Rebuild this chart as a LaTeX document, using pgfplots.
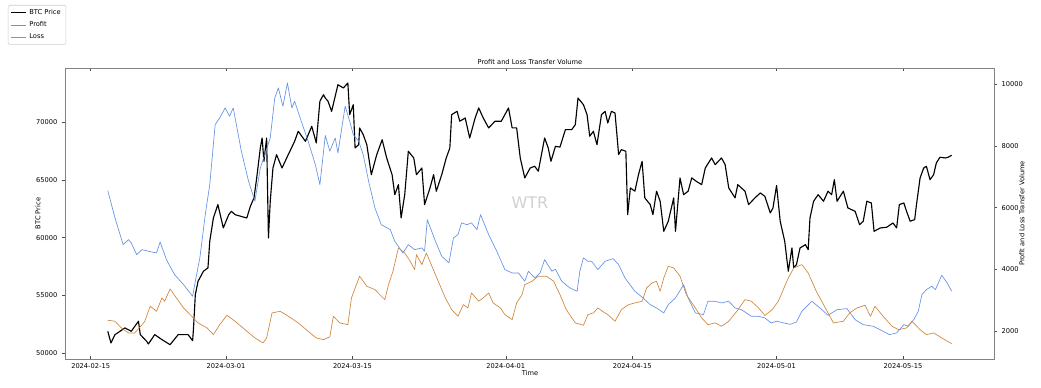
\documentclass[border=0pt]{standalone}
\usepackage{pgfplots}
\usepackage{pgfplotstable}
\pgfplotsset{compat=1.18}
\usetikzlibrary{calc}
\usepackage{fontspec}
\setmainfont{DejaVu Sans}
\definecolor{profitc}{RGB}{100,146,230}
\definecolor{lossc}{RGB}{208,134,60}
\definecolor{framec}{RGB}{130,130,130}

\pgfplotstableread{
d v
1.9 51900
2.25 50890
2.7 51610
3.8 52190
4.5 51900
5.3 52770
5.5 51610
6.2 51040
6.4 50800
7.1 51610
7.9 51180
8.8 50740
9.7 51610
10.8 51610
11.3 51090
11.4 52190
11.6 55070
11.9 56230
12.5 57100
13.0 57390
13.2 59700
13.6 61710
14.1 62870
14.7 60850
15.3 62000
15.6 62290
16.0 62000
17.3 61710
17.7 62730
18.1 63450
18.4 65180
18.8 67780
19.0 68640
19.2 66620
19.5 68640
19.7 59980
19.9 63160
20.2 66040
20.6 67200
21.2 66040
21.9 67200
22.6 68350
23.0 69220
23.8 68350
24.5 69650
25.0 68210
25.4 71820
25.8 72390
26.0 72100
26.3 71820
26.7 70950
27.4 73250
28.0 72970
28.5 73400
28.7 70660
29.1 71520
29.3 67780
29.7 68060
29.8 69510
30.2 68930
30.6 68060
31.1 65460
31.7 67200
32.3 68490
32.8 66910
33.4 65460
33.7 63730
34.1 64600
34.4 61710
34.8 63730
35.2 67490
35.8 66910
36.1 65460
36.7 66040
37.0 62870
37.6 64310
38.0 65460
38.3 64030
38.9 65460
39.4 66910
39.8 67780
40.0 70660
40.6 70950
40.9 70090
41.5 70370
42.0 68640
42.6 70370
43.0 71240
43.5 70370
44.1 69510
44.8 70090
45.5 70090
46.3 71240
46.7 69510
47.2 69510
47.6 66910
48.1 65180
48.7 66040
49.2 66190
49.6 65760
50.3 68640
50.7 67780
51.0 66620
51.5 67920
52.0 67850
52.6 69360
53.3 69360
53.7 69790
54.0 72100
54.6 71520
55.0 70660
55.3 68790
55.7 69220
56.1 68060
56.6 70660
57.0 70950
57.3 69940
57.7 70950
58.1 70800
58.5 67200
58.8 67630
59.3 67490
59.5 62000
59.8 64310
60.3 64030
60.7 65460
61.1 66620
61.4 63450
62.0 62870
62.3 62000
62.7 64030
63.1 63160
63.5 60560
64.0 61430
64.6 63450
64.8 60560
65.3 65180
65.7 63730
66.2 64030
66.6 65180
67.1 64890
67.7 64600
68.1 66040
68.8 66910
69.2 66330
69.9 66910
70.3 66330
70.7 64310
71.4 63450
71.7 64600
72.5 64030
72.9 62870
73.6 63450
74.2 63880
74.7 63590
75.3 62150
75.6 62580
76.0 64530
76.4 61430
76.9 59700
77.3 57100
77.7 59120
77.9 57390
78.2 57670
78.6 59120
79.2 59400
79.5 58970
79.7 61710
80.1 63160
80.6 63730
81.2 63160
81.7 64030
82.1 63730
82.4 65030
82.7 63160
83.4 64030
83.9 62580
84.7 62290
85.2 61130
85.6 61430
86.0 63160
86.5 63010
86.8 60560
87.5 60850
88.2 60910
88.9 61280
89.3 60850
89.6 62870
90.1 63010
90.4 62290
90.8 61430
91.3 61570
91.5 62870
91.9 65180
92.3 66040
92.6 66190
93.0 65030
93.4 65460
93.7 66480
94.1 66970
94.7 66910
95.0 66970
95.4 67140
}\btc

\pgfplotstableread{
d v
1.9 6551
2.7 5666
3.6 4800
4.2 4962
4.5 4855
5.1 4475
5.7 4637
6.4 4585
7.3 4530
7.7 4887
8.4 4313
9.3 3826
10.3 3502
11.3 3126
11.6 3612
12.1 4368
12.7 5773
13.2 6746
13.8 8693
14.3 8910
14.9 9234
15.4 8965
15.8 9234
16.7 7830
17.5 6856
18.2 6207
18.8 7288
19.3 7720
19.9 8261
20.4 9558
20.8 9883
21.3 9289
21.8 10045
22.3 9234
22.6 9451
23.4 8748
24.1 8154
24.9 7394
25.4 6746
26.0 8340
26.5 7830
27.1 8261
27.4 7774
28.2 9289
28.7 8803
29.1 8368
29.7 8154
30.2 7720
30.8 6856
31.5 5990
32.2 5448
33.2 5286
33.7 4910
34.6 4530
35.2 4800
35.9 4637
36.7 4693
37.0 4585
37.3 5611
38.2 4910
38.9 4423
39.7 4206
40.2 5017
40.7 5124
41.1 5504
41.7 5448
42.2 5504
42.8 5286
43.2 5773
44.1 5124
45.0 4585
45.9 3989
46.7 3882
47.4 3882
48.1 3612
48.5 3937
49.2 3719
49.8 3882
50.3 4313
51.1 3937
51.5 4000
52.2 3612
53.1 3395
53.9 3288
54.2 3937
54.6 4368
55.1 4261
55.5 4261
56.2 3989
57.0 4261
57.9 4345
58.5 4151
59.2 3719
60.3 3288
61.2 3071
62.0 2853
62.7 2746
63.5 2584
64.0 2853
64.8 3071
65.7 3502
66.2 3071
67.0 2584
67.9 2530
68.4 2964
69.2 2964
69.9 2908
70.7 2964
71.4 2746
72.1 2691
73.2 2477
74.0 2477
74.7 2422
75.4 2260
76.0 2315
76.8 2260
77.5 2215
78.2 2292
78.8 2639
79.9 2964
80.8 2746
81.7 2509
82.7 2691
83.8 2723
84.7 2367
85.6 2204
86.7 2152
87.8 1990
88.5 1880
89.3 1935
90.1 2204
90.6 2152
91.2 2367
91.7 2639
92.1 3178
92.6 3340
93.2 3450
93.6 3340
94.3 3807
94.9 3557
95.4 3288
}\profit

\pgfplotstableread{
d v
1.9 2347
2.7 2315
3.4 2097
4.2 1935
4.9 1935
5.7 2204
6.0 2315
6.6 2801
7.3 2639
7.9 3071
8.2 2964
8.8 3362
9.5 3071
10.3 2746
11.2 2477
11.9 2260
12.9 2097
13.6 1880
14.3 2204
15.1 2509
16.0 2315
17.1 2042
18.2 1773
19.1 1611
19.5 1773
20.1 2584
21.0 2639
21.9 2477
23.0 2260
24.1 1990
25.0 1773
25.8 1718
26.5 1810
26.9 2477
27.6 2260
28.5 2204
28.9 3071
29.8 3775
30.6 3450
31.5 3340
32.6 3015
33.0 3502
33.5 3937
34.1 4693
34.8 4530
35.4 4261
35.9 3989
36.1 4475
36.7 4151
37.2 4530
38.2 3826
39.3 3071
40.0 2691
40.7 2477
41.3 2853
41.8 2746
42.2 3233
43.0 2964
43.5 3071
44.1 3233
44.6 2908
45.4 2746
45.9 2530
46.7 2367
47.2 2908
47.8 3178
48.1 3502
48.9 3612
49.6 3775
50.5 3775
51.3 3612
52.0 3178
52.7 2691
53.7 2260
54.6 2185
55.1 2530
55.7 2584
56.2 2746
56.7 2639
57.3 2530
58.1 2315
58.8 2691
59.6 2853
60.3 2908
61.1 2964
61.6 3395
62.2 3557
62.7 3612
63.1 3288
63.5 3719
64.0 4099
64.6 4044
65.3 3775
66.0 3178
67.0 2746
67.7 2422
68.4 2204
69.2 2260
69.9 2152
70.7 2315
71.6 2639
72.5 3015
73.2 2964
74.0 2746
74.7 2500
75.5 2691
76.2 2964
76.9 3450
77.3 3719
77.9 4044
78.8 4151
79.5 3882
80.4 3288
81.4 2746
82.3 2260
83.4 2315
84.1 2584
84.9 2746
85.8 2834
86.4 2477
86.9 2801
87.8 2477
88.8 2152
89.5 2042
90.4 2097
91.0 2315
91.9 2042
92.6 1880
93.4 1935
94.3 1773
95.4 1588
}\loss

\begin{document}
\begin{tikzpicture}
\pgfplotsset{
  common/.style={
    scale only axis, width=696.75pt, height=218.25pt,
    xmin=-2.84, xmax=100.09,
    scaled ticks=false,
    ticklabel style={font=\fontsize{5}{6}\selectfont},
    /pgf/number format/1000 sep={},
    /pgf/number format/assume math mode=true,
    axis line style={framec, line width=0.5pt},
    tick style={black!70, line width=0.4pt},
    major tick length=2.2pt,
  }
}
\begin{axis}[common, name=ax,
  ymin=49500, ymax=74700,
  ytick={50000,55000,60000,65000,70000},
  ytick pos=left, ytick align=outside,
  xtick={0,15,29,46,60,76,90},
  xticklabels={2024-02-15,2024-03-01,2024-03-15,2024-04-01,2024-04-15,2024-05-01,2024-05-15},
  xtick pos=both, xtick align=inside,
  xlabel={Time}, ylabel={BTC Price},
  every axis x label/.style={at={(axis description cs:0.5005,-0.048)}, anchor=center, font=\fontsize{5}{6}\selectfont},
  every axis y label/.style={at={(axis description cs:-0.0291,0.5)}, rotate=90, anchor=center, font=\fontsize{5}{6}\selectfont},
  title={Profit and Loss Transfer Volume},
  every axis title shift=0pt,
  title style={font=\fontsize{5}{6}\selectfont, at={(axis description cs:0.5005,1.0206)}, anchor=center},
]
\node[text=black!18, font=\fontsize{12}{14}\selectfont] at (rel axis cs:0.5005,0.536) {WTR};
\addplot[black, line width=0.85pt, line join=round] table[x=d, y=v] {\btc};
\end{axis}
\begin{axis}[common,
  ymin=1090, ymax=10530,
  ytick={2000,4000,6000,8000,10000},
  axis x line=none, axis y line*=right,
  ytick align=outside,
  ylabel={Profit and Loss Transfer Volume},
  every axis y label/.style={at={(axis description cs:1.0301,0.5)}, rotate=90, anchor=center, font=\fontsize{5}{6}\selectfont},
  legend style={at={(axis description cs:-0.0614,1.2165)}, anchor=north west,
    font=\fontsize{5}{6}\selectfont, draw=black!20, rounded corners=1pt,
    inner xsep=2pt, inner ysep=0.8pt, row sep=0pt},
  legend cell align=left,
  legend image code/.code={\draw[#1] (0pt,0pt) -- (11pt,0pt);},
]
\addlegendimage{black, line width=0.85pt}
\addlegendentry{BTC Price}
\addplot[profitc, line width=0.5pt, line join=round] table[x=d, y=v] {\profit};
\addlegendentry{Profit}
\addplot[lossc, line width=0.5pt, line join=round] table[x=d, y=v] {\loss};
\addlegendentry{Loss}
\end{axis}
\pgfresetboundingbox
\useasboundingbox ($(ax.south west)+(-48.75pt,-21.75pt)$) rectangle ($(ax.north east)+(35.25pt,51pt)$);
\end{tikzpicture}
\end{document}
